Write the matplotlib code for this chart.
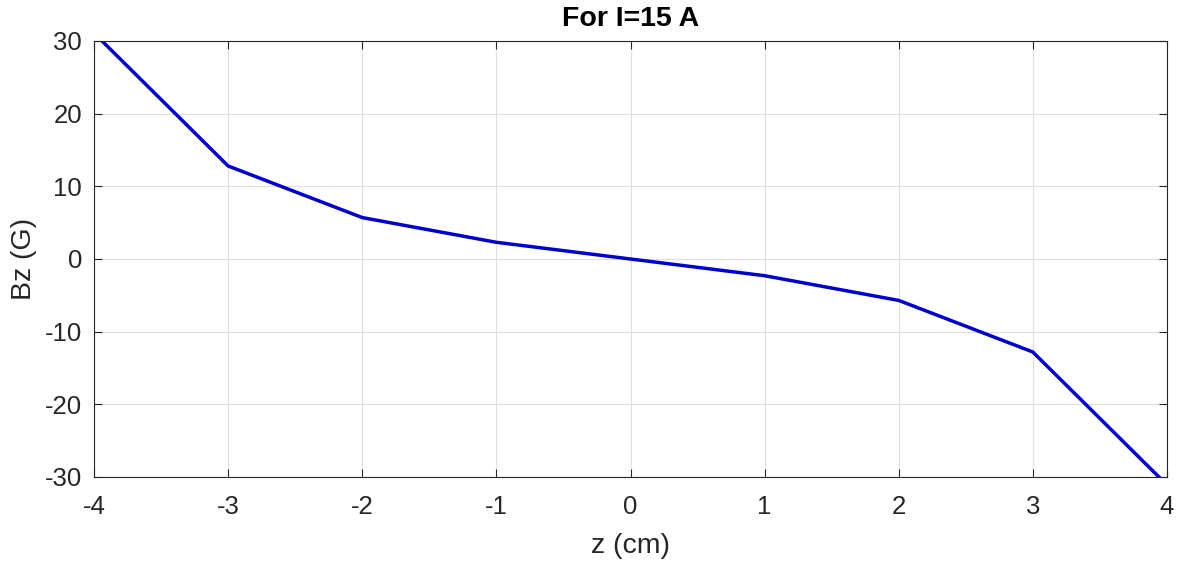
import matplotlib
matplotlib.use('Agg')
import matplotlib.pyplot as plt

plt.rcParams['font.family'] = ['Liberation Sans', 'DejaVu Sans']

# Bz along the axis, I = 15 A
z_cm = [-4, -3, -2, -1, 0, 1, 2, 3, 4]
bz_gauss = [31.1, 12.8, 5.7, 2.3, 0.0, -2.3, -5.7, -12.8, -31.1]

x_ticks = [-4, -3, -2, -1, 0, 1, 2, 3, 4]
y_ticks = [-30, -20, -10, 0, 10, 20, 30]

fig = plt.figure(figsize=(11.83, 5.63), dpi=100)
ax = fig.add_axes([94 / 1183, 1 - 477 / 563, (1167 - 94) / 1183, (477 - 41) / 563])

ax.plot(z_cm, bz_gauss, color='#0000CC', linewidth=2.5)

ax.set_xlim(-4, 4)
ax.set_ylim(-30, 30)
ax.set_xticks(x_ticks)
ax.set_yticks(y_ticks)
ax.set_xticklabels([str(t) for t in x_ticks])
ax.set_yticklabels([str(t) for t in y_ticks])

ax.grid(True, color='#DFDFDF', linewidth=0.8)
ax.set_axisbelow(True)
ax.tick_params(direction='in', top=True, right=True, labelsize=18.5,
               colors='#262626', length=6, width=0.8)
ax.tick_params(axis='x', pad=13)
ax.tick_params(axis='y', pad=8.5)
for s in ax.spines.values():
    s.set_color('#262626')
    s.set_linewidth(0.8)

ax.set_xlabel('z (cm)', fontsize=20.5, color='#262626', labelpad=10)
ax.set_ylabel('Bz (G)', fontsize=20.5, color='#262626', labelpad=6)
ax.set_title('For I=15 A', fontsize=20.5, fontweight='bold', color='black', pad=11)

fig.savefig('out.png', dpi=100, facecolor='white')
